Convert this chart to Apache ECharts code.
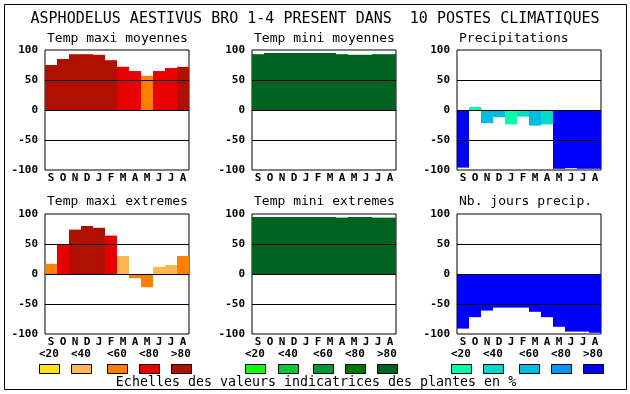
<!DOCTYPE html>
<html><head><meta charset="utf-8">
<script src="https://cdn.jsdelivr.net/npm/echarts@6/dist/echarts.min.js"></script>
<style>html,body{margin:0;padding:0;background:#fff}#c{width:630px;height:394px}</style>
</head><body><div id="c"></div>
<script>
var months = ['S','O','N','D','J','F','M','A','M','J','J','A'];
var yTicks = [-100,-50,0,50,100];
var mainTitle = 'ASPHODELUS AESTIVUS BRO 1-4 PRESENT DANS  10 POSTES CLIMATIQUES';
var panelTitles = ['Temp maxi moyennes','Temp mini moyennes','Precipitations','Temp maxi extremes','Temp mini extremes','Nb. jours precip.'];
var caption = 'Echelles des valeurs indicatrices des plantes en %';
var legendLabels = ['<20','<40','<60','<80','>80'];

var redPalette = ['#f8e418','#ffb850','#ff8000','#e80000','#b01000'];
var greenPalette = ['#10ff10','#00cc30','#009830','#007800','#006420'];
var bluePalette = ['#00ffa8','#00dcc8','#00bce0','#0098f0','#0000ff'];

var tmaxMoyValues = [75,85,93,93,92,83,72,65,57,65,70,72];
var tmaxMoyClass  = [4,4,4,4,4,4,3,3,2,3,3,4];
var tminMoyValues = [93,95,95,95,95,95,95,93,92,92,93,93];
var tminMoyClass  = [4,4,4,4,4,4,4,4,4,4,4,4];
var precipValues  = [-96,5,-22,-12,-24,-11,-26,-24,-98,-97,-98,-98];
var precipClass   = [4,0,2,2,0,1,2,1,4,4,4,4];
var tmaxExtValues = [17,50,74,80,77,64,30,-7,-22,12,15,30];
var tmaxExtClass  = [2,3,4,4,4,3,1,2,2,1,1,2];
var tminExtValues = [95,95,95,95,95,95,95,94,95,95,94,94];
var tminExtClass  = [4,4,4,4,4,4,4,4,4,4,4,4];
var joursValues   = [-91,-72,-61,-56,-56,-56,-63,-72,-88,-96,-96,-98];
var joursClass    = [4,4,4,4,4,4,4,4,4,4,4,4];

var panels = [
  {v:tmaxMoyValues,c:tmaxMoyClass,p:redPalette},
  {v:tminMoyValues,c:tminMoyClass,p:greenPalette},
  {v:precipValues,c:precipClass,p:bluePalette},
  {v:tmaxExtValues,c:tmaxExtClass,p:redPalette},
  {v:tminExtValues,c:tminExtClass,p:greenPalette},
  {v:joursValues,c:joursClass,p:bluePalette}
];
var lefts = [45,252,457];
var tops = [50,214];
var titleY = [39,202];
var mono = 'DejaVu Sans Mono';

var grids=[],xAxes=[],yAxes=[],series=[];
var graphics=[];
graphics.push({type:'text',x:315,y:19,style:{text:mainTitle,font:'15px "DejaVu Sans Mono"',fill:'#000',textAlign:'center',textVerticalAlign:'middle'}});
panels.forEach(function(pn,i){
  var col=i%3,row=Math.floor(i/3);
  grids.push({left:lefts[col],top:tops[row],width:144,height:120,show:true,borderColor:'#000',borderWidth:1,backgroundColor:'#fff'});
  xAxes.push({type:'category',gridIndex:i,data:months,axisTick:{show:false},axisLine:{show:false},
    axisLabel:{margin:3,fontFamily:mono,fontWeight:'bold',fontSize:11,color:'#000',interval:0}});
  yAxes.push({type:'value',gridIndex:i,min:yTicks[0],max:yTicks[yTicks.length-1],interval:50,
    axisLine:{show:false},axisTick:{show:false},splitLine:{show:false},
    axisLabel:{margin:7,fontFamily:mono,fontWeight:'bold',fontSize:11,color:'#000'}});
  series.push({type:'bar',xAxisIndex:i,yAxisIndex:i,barWidth:'100%',barCategoryGap:0,
    data:pn.v.map(function(v,k){return {value:v,itemStyle:{color:pn.p[pn.c[k]]}};}),
    silent:true,animation:false,
    markLine:{silent:true,symbol:['none','none'],label:{show:false},animation:false,
      lineStyle:{color:'#000',width:1,type:'solid'},
      data:[{yAxis:50},{yAxis:0},{yAxis:-50}]}});
  graphics.push({type:'text',x:lefts[col]+2,y:titleY[row],style:{text:panelTitles[i],font:'13px "DejaVu Sans Mono"',fill:'#000',textVerticalAlign:'middle'}});
});

graphics.push({type:'rect',shape:{x:4.5,y:4.5,width:622,height:385},style:{fill:'none',stroke:'#000',lineWidth:1},z:100});
var boxX=[[39,71,107,139,171],[245,278,313,345,377],[451,483,519,551,583]];
var pals=[redPalette,greenPalette,bluePalette];
boxX.forEach(function(xs,g){
  xs.forEach(function(x,k){
    graphics.push({type:'rect',shape:{x:x+0.5,y:364.5,width:20,height:9},style:{fill:pals[g][k],stroke:'#000',lineWidth:1}});
    graphics.push({type:'text',x:x,y:354,style:{text:legendLabels[k],font:'bold 11px "DejaVu Sans Mono"',fill:'#000',textVerticalAlign:'middle'}});
  });
});
graphics.push({type:'text',x:316,y:383,style:{text:caption,font:'13.3px "DejaVu Sans Mono"',fill:'#000',textAlign:'center',textVerticalAlign:'middle'}});

var chart=echarts.init(document.getElementById('c'),null,{renderer:'canvas'});
chart.setOption({animation:false,backgroundColor:'#fff',grid:grids,xAxis:xAxes,yAxis:yAxes,series:series,graphic:graphics});
</script></body></html>
